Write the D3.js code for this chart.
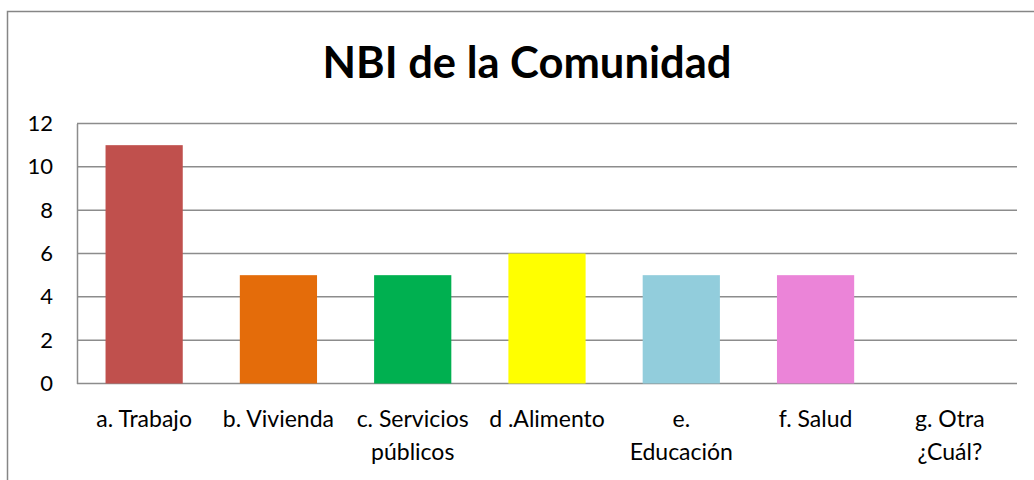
<!DOCTYPE html>
<html>
<head>
<meta charset="utf-8">
<script src="https://cdn.jsdelivr.net/npm/d3@7"></script>
<style>
  body { margin: 0; background: #fff; }
  svg text { font-family: Lato, "Open Sans", sans-serif; fill: #000; }
</style>
</head>
<body>
<svg class="chart"></svg>
<script>
// data
var categories = ["a. Trabajo", "b. Vivienda", "c. Servicios\npúblicos", "d .Alimento", "e.\nEducación", "f. Salud", "g. Otra\n¿Cuál?"];
var values = [11, 5, 5, 6, 5, 5, 0];
var colors = ["#C0504D", "#E46C0A", "#00B050", "#FFFF00", "#92CDDC", "#EB84D8", "#8064A2"];
var yTicks = [0, 2, 4, 6, 8, 10, 12];

var W = 1034, H = 480;
var margin = {top: 123.5, right: 17, bottom: 96.5, left: 77},
    width = W - margin.left - margin.right,
    height = H - margin.top - margin.bottom;

var svg = d3.select(".chart").attr("width", W).attr("height", H);

// outer chart border
svg.append("rect")
  .attr("x", 7.5).attr("y", 11.5)
  .attr("width", 1050).attr("height", 500)
  .attr("fill", "none").attr("stroke", "#868686").attr("stroke-width", 1.5);

svg.append("text")
  .attr("x", 527).attr("y", 78)
  .attr("text-anchor", "middle")
  .style("font-size", "43.5px").style("font-weight", "bold")
  .text("NBI de la Comunidad");

var chart = svg.append("g")
  .attr("transform", "translate(" + margin.left + "," + margin.top + ")");

var x = d3.scaleBand().domain(categories).range([0, width]).paddingInner(0.425).paddingOuter(0.2125);
var y = d3.scaleLinear().domain([0, 12]).range([height, 0]);

// gridlines
chart.append("g")
  .selectAll("line")
  .data(yTicks)
  .enter().append("line")
  .attr("x1", 0).attr("x2", width)
  .attr("y1", function (d) { return y(d); })
  .attr("y2", function (d) { return y(d); })
  .attr("stroke", "#8c8c8c").attr("stroke-width", 1.5);

// bars
chart.selectAll(".bar")
  .data(values)
  .enter().append("rect")
  .attr("class", "bar")
  .attr("x", function (d, i) { return x(categories[i]); })
  .attr("width", x.bandwidth())
  .attr("y", function (d) { return y(d); })
  .attr("height", function (d) { return height - y(d); })
  .attr("fill", function (d, i) { return colors[i]; });

// y axis
var yAxis = d3.axisLeft(y).tickValues(yTicks).tickSize(0).tickPadding(24);
var yg = chart.append("g").call(yAxis);
yg.select(".domain").attr("stroke", "#8c8c8c").attr("stroke-width", 1.5);
yg.selectAll("text").style("font-size", "22px").style("font-family", "Lato, sans-serif").attr("fill", "#000");

// x labels, split on \n
var xl = chart.append("g").attr("transform", "translate(0," + height + ")");
categories.forEach(function (c) {
  var t = xl.append("text")
    .attr("x", x(c) + x.bandwidth() / 2)
    .attr("y", 43)
    .attr("text-anchor", "middle")
    .style("font-size", "23px");
  c.split("\n").forEach(function (line, k) {
    t.append("tspan")
      .attr("x", x(c) + x.bandwidth() / 2)
      .attr("dy", k === 0 ? 0 : 33)
      .text(line);
  });
});
</script>
</body>
</html>
